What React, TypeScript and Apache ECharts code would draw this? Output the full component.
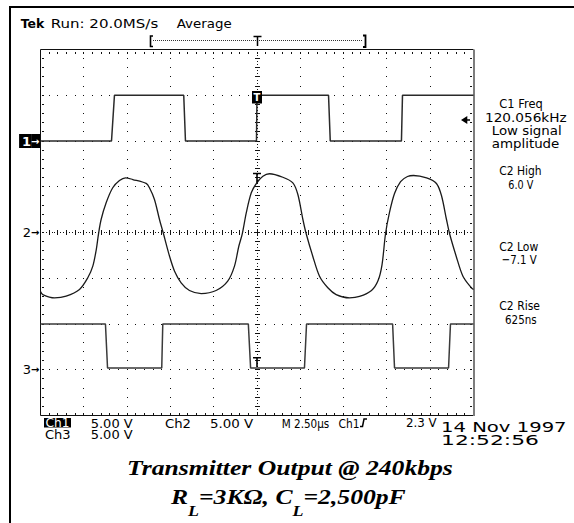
import React, { useEffect, useRef } from 'react';
import * as echarts from 'echarts';

// Screen scales: 2.50 µs/div horizontally (10 div), 5.00 V/div vertically (8 div)
const timeTicks = [0, 2.5, 5, 7.5, 10, 12.5, 15, 17.5, 20, 22.5, 25];
const voltTicks = [-20, -15, -10, -5, 0, 5, 10, 15, 20];
const triggerTime = 12.5;
const ch1Offset = 10; // channel ground markers (screen volts)
const ch2Offset = 0;
const ch3Offset = -15;
const ch1TriggerLevel = 2.3;

// Ch1: transmitter input (V)
const ch1Time = [0, 4.1, 4.27, 8.27, 8.37, 12.47, 12.5, 16.63, 16.73, 20.84, 20.9, 25];
const ch1Volt = [0, 0, 5, 5, 0, 0, 5, 5, 0, 0, 5, 5];

// Ch2: transmitter output (V)
const ch2Time = [0, 0.13, 0.81, 1.48, 2.25, 2.73, 3.02, 3.22, 3.35, 3.5, 3.79, 4.17, 4.56, 4.91, 5.33, 6.1, 6.29, 6.58, 6.87, 7.1, 7.45, 7.74, 8.12, 8.6, 9.28, 10.14, 10.81, 11.2, 11.45, 11.65, 11.88, 12.17, 12.49, 12.84, 13.22, 13.99, 14.57, 14.86, 15.15, 15.34, 15.72, 16.11, 16.59, 17.07, 17.84, 18.42, 19.11, 19.49, 19.72, 19.92, 20.15, 20.44, 20.79, 21.19, 21.54, 22.29, 22.86, 23.15, 23.44, 23.62, 24.0, 24.39, 24.87, 25.0];
const ch2Volt = [-6.45, -6.78, -7.14, -6.96, -6.23, -4.95, -3.68, -1.86, -0.14, 1.42, 3.25, 4.89, 5.68, 5.98, 5.79, 5.36, 4.89, 3.61, 1.42, -0.14, -2.59, -4.23, -5.5, -6.34, -6.67, -6.34, -5.32, -3.68, -1.5, -0.14, 2.15, 4.34, 5.43, 6.15, 6.42, 6.04, 5.43, 4.15, 1.42, -0.14, -2.59, -4.78, -6.04, -6.78, -7.14, -6.99, -6.34, -5.25, -3.5, -0.14, 2.19, 4.26, 5.57, 6.12, 6.23, 5.96, 5.36, 4.04, 1.42, -0.14, -2.59, -4.78, -6.04, -6.23];

// Ch3: receiver output (V)
const ch3Time = [0, 3.75, 3.87, 7.0, 7.06, 12.0, 12.13, 15.24, 15.36, 20.33, 20.44, 23.56, 23.67, 25];
const ch3Volt = [5, 5, 0.2, 0.2, 5, 5, 0.2, 0.2, 5, 5, 0.2, 0.2, 5, 5];

const measurementTexts = ['C1 Freq', '120.056kHz', 'Low signal', 'amplitude', 'C2 High', '6.0 V', 'C2 Low', '−7.1 V', 'C2 Rise', '625ns'];
const titleLines = ['Transmitter Output @ 240kbps', 'R{s|L}=3KΩ, C{s|L}=2,500pF'];

const MINOR = 5;
const INK = '#111';

function interp(ts: number[], vs: number[], t: number) {
  for (let i = 1; i < ts.length; i++) {
    if (t <= ts[i]) {
      const f = (t - ts[i - 1]) / (ts[i] - ts[i - 1] || 1);
      return vs[i - 1] + f * (vs[i] - vs[i - 1]);
    }
  }
  return vs[vs.length - 1];
}

let measureCtx: CanvasRenderingContext2D | null = null;
function fit(text: string, font: string, width: number) {
  if (!measureCtx) measureCtx = document.createElement('canvas').getContext('2d');
  if (!measureCtx) return 1;
  measureCtx.font = font;
  const w = measureCtx.measureText(text).width;
  return w > 0 ? width / w : 1;
}

function scopeText(text: string, x: number, y: number, width: number, size = 12, weight = 'normal', fill = '#000') {
  const font = `${weight} ${size}px "DejaVu Sans"`;
  return {
    type: 'text', x, y, scaleX: fit(text, font, width), silent: true,
    style: { text, font, fill, align: 'left', verticalAlign: 'middle' },
  };
}

function buildOption() {
  const tMin = timeTicks[0];
  const tMax = timeTicks[timeTicks.length - 1];
  const vMin = voltTicks[0];
  const vMax = voltTicks[voltTicks.length - 1];
  const tCentre = timeTicks[(timeTicks.length - 1) / 2];
  const vCentre = voltTicks[(voltTicks.length - 1) / 2];

  const graticule = {
    type: 'custom',
    silent: true,
    z: 1,
    clip: false,
    data: [[tMin, vMin]],
    renderItem: (params: any, api: any) => {
      if (params.dataIndex !== 0) return null;
      const P = (t: number, v: number) => api.coord([t, v]);
      const [L, T] = P(tMin, vMax);
      const [R, B] = P(tMax, vMin);
      const xDiv = timeTicks.length - 1;
      const yDiv = voltTicks.length - 1;
      const sx = (R - L) / (xDiv * MINOR);
      const sy = (B - T) / (yDiv * MINOR);
      const cx = P(tCentre, vCentre)[0];
      const cy = P(tCentre, vCentre)[1];
      const ch: any[] = [];
      const rect = (x: number, y: number, w: number, h: number, fill = INK) =>
        ch.push({ type: 'rect', shape: { x, y, width: w, height: h }, style: { fill } });
      const dot = (x: number, y: number) => rect(Math.round(x - 0.5), Math.round(y - 0.5), 1, 1);
      const seg = (x1: number, y1: number, x2: number, y2: number, stroke = INK, lw = 1) =>
        ch.push({ type: 'line', shape: { x1, y1, x2, y2 }, style: { stroke, lineWidth: lw } });

      timeTicks.slice(1, -1).forEach((t) => {
        if (t === tCentre) return;
        const x = P(t, vCentre)[0];
        for (let k = 0; k <= yDiv * MINOR; k++) dot(x, T + k * sy);
      });
      voltTicks.slice(1, -1).forEach((v) => {
        if (v === vCentre) return;
        const y = P(tCentre, v)[1];
        for (let k = 0; k <= xDiv * MINOR; k++) dot(L + k * sx, y);
      });
      // centre cross
      for (let k = 0; k <= xDiv * MINOR * 3; k++) dot(L + (k * sx) / 3, cy);
      for (let k = 0; k <= yDiv * MINOR * 3; k++) dot(cx, T + (k * sy) / 3);
      for (let k = 0; k <= xDiv * MINOR; k++) rect(Math.round(L + k * sx - 0.5), Math.round(cy - 0.5) - 2, 1, 5);
      for (let k = 0; k <= yDiv * MINOR; k++) rect(Math.round(cx - 0.5) - 2, Math.round(T + k * sy - 0.5), 5, 1);
      // border ticks
      for (let k = 1; k < xDiv * MINOR; k++) {
        const x = Math.round(L + k * sx - 0.5);
        rect(x, Math.round(T) + 2, 1, 2);
        rect(x, Math.round(B) - 3, 1, 2);
      }
      for (let k = 1; k < yDiv * MINOR; k++) {
        const y = Math.round(T + k * sy - 0.5);
        rect(Math.round(L) + 1, y, 2, 1);
        rect(Math.round(R) - 4, y, 2, 1);
      }
      // border
      seg(L, T, R, T);
      seg(L, B, R, B);
      seg(L, T, L, B);
      seg(R + 0.5, T, R + 0.5, B + 0.5, '#7d7d7d', 2);
      return { type: 'group', children: ch };
    },
  };

  const traceLine = (color: string, width: number) => ({ color, width });
  const tShape = 'path://M0,0H10V2H6V12H4V2H0Z';

  const ch1Data = ch1Time.map((t, i) => [t, ch1Volt[i] + ch1Offset]);
  const ch2Data = ch2Time.map((t, i) => [t, ch2Volt[i] + ch2Offset]);
  const ch3Data = ch3Time.map((t, i) => [t, ch3Volt[i] + ch3Offset]);

  const markerLabel: Record<string, string> = {
    [ch1Offset]: '{bd|1}{ba|→}',
    [ch2Offset]: '{d|2}{a|→}',
    [ch3Offset]: '{d|3}{a|→}',
  };

  const titleFont = 'italic bold 20px "Liberation Serif"';
  const titleScale = fit(titleLines[0], titleFont, 326);

  const mY = [104, 117.3, 130.5, 143.5, 171, 184.7, 246.7, 259.7, 305.7, 319.2];
  const mX = [499.3, 485, 491.7, 491.7, 499.3, 508.3, 499.3, 501.7, 499.3, 505];
  const mW = [43.4, 81.7, 70, 67.7, 42.4, 25, 39, 35, 40.7, 31.7];

  const graphic: any[] = [
    { type: 'rect', silent: true, shape: { x: 10, y: 7, width: 620, height: 620 }, style: { fill: 'none', stroke: '#000', lineWidth: 2 } },
    scopeText('Tek', 20.7, 23.5, 23.6, 13, 'bold'),
    scopeText('Run: 20.0MS/s', 50.7, 23.5, 107.6, 13),
    scopeText('Average', 176.7, 23.5, 55, 13),
    { type: 'polyline', silent: true, shape: { points: [[153, 36], [150.5, 36], [150.5, 46.5], [153, 46.5]] }, style: { stroke: '#000', lineWidth: 1.6, fill: 'none' } },
    { type: 'line', silent: true, shape: { x1: 153, y1: 40.5, x2: 363, y2: 40.5 }, style: { stroke: '#333', lineWidth: 1, lineDash: [1, 1] } },
    { type: 'line', silent: true, shape: { x1: 253.5, y1: 36.5, x2: 261.5, y2: 36.5 }, style: { stroke: '#000', lineWidth: 1.5 } },
    { type: 'line', silent: true, shape: { x1: 257.5, y1: 36.5, x2: 257.5, y2: 46 }, style: { stroke: '#000', lineWidth: 1.5 } },
    { type: 'polyline', silent: true, shape: { points: [[363, 35.5], [365.5, 35.5], [365.5, 47], [363, 47]] }, style: { stroke: '#000', lineWidth: 1.8, fill: 'none' } },
    ...measurementTexts.map((t, i) => scopeText(t, mX[i], mY[i], mW[i], 13)),
    { type: 'rect', silent: true, shape: { x: 44, y: 418, width: 27, height: 9.5 }, style: { fill: '#000' } },
    scopeText('Ch1', 45.5, 422.8, 24, 12.5, 'normal', '#fff'),
    scopeText('5.00 V', 90.7, 423.3, 42, 12.5),
    scopeText('Ch2', 165, 423.3, 26, 12.5),
    scopeText('5.00 V', 210, 423.3, 43.3, 12.5),
    scopeText('M 2.50µs', 281.7, 423.3, 47.6, 12.5),
    scopeText('Ch1', 338.5, 423.3, 21, 12.5),
    { type: 'polyline', silent: true, shape: { points: [[360, 426.5], [362.5, 426.5], [364, 419], [367, 419]] }, style: { stroke: '#000', lineWidth: 1.5, fill: 'none' } },
    scopeText('2.3 V', 406, 423.3, 30.7, 12.5),
    scopeText('14 Nov 1997', 441, 427.5, 125.7, 14),
    scopeText('12:52:56', 441, 440.5, 98, 14),
    scopeText('Ch3', 45, 434.8, 25.7, 12.5),
    scopeText('5.00 V', 90.7, 435, 42, 12.5),
    {
      type: 'text', silent: true, x: 289.9, y: 468.3, scaleX: titleScale,
      style: { text: titleLines[0], font: titleFont, fill: '#000', align: 'center', verticalAlign: 'middle' },
    },
    {
      type: 'text', silent: true, x: 288.3, y: 497.3, scaleX: titleScale,
      style: {
        text: titleLines[1], font: titleFont, fill: '#000', align: 'center', verticalAlign: 'middle', lineHeight: 24,
        rich: { s: { font: 'italic bold 14px "Liberation Serif"', padding: [27, 0, 0, 0] } },
      },
    },
  ];

  return {
    animation: false,
    backgroundColor: '#fff',
    grid: { left: 40.5, top: 49.5, width: 433, height: 366, show: false },
    xAxis: {
      type: 'value', min: tMin, max: tMax, interval: timeTicks[1] - timeTicks[0],
      axisLine: { show: false }, axisTick: { show: false }, axisLabel: { show: false }, splitLine: { show: false },
    },
    yAxis: {
      type: 'value', min: vMin, max: vMax, interval: voltTicks[1] - voltTicks[0],
      axisLine: { show: false }, axisTick: { show: false }, splitLine: { show: false },
      axisLabel: {
        show: true, margin: 0, showMinLabel: false, showMaxLabel: false,
        formatter: (v: number) => markerLabel[String(v)] || '',
        rich: {
          bd: { color: '#fff', backgroundColor: '#000', fontFamily: 'DejaVu Sans', fontSize: 13, fontWeight: 'bold', height: 14, padding: [0, 0, 0, 3] },
          ba: { color: '#fff', backgroundColor: '#000', fontFamily: 'DejaVu Sans', fontSize: 10, fontWeight: 'bold', height: 14, padding: [0, 1, 0, 0] },
          d: { color: '#000', fontFamily: 'DejaVu Sans', fontSize: 13 },
          a: { color: '#000', fontFamily: 'DejaVu Sans', fontSize: 10, fontWeight: 'bold', padding: [0, 1, 0, 0] },
        },
      },
    },
    graphic,
    series: [
      graticule,
      {
        type: 'line', name: 'Ch1', data: ch1Data, showSymbol: false, symbol: 'none', z: 3,
        lineStyle: traceLine('#2a2a2a', 1.5),
        markPoint: {
          silent: true,
          data: [
            {
              coord: [triggerTime, interp(ch1Time, ch1Volt, triggerTime) + ch1Offset],
              symbol: 'rect', symbolSize: [10, 12.5], symbolOffset: [0, 2], itemStyle: { color: '#000' },
              label: { show: true, position: 'inside', formatter: 'T', color: '#fff', fontFamily: 'DejaVu Sans', fontSize: 10, fontWeight: 'bold' },
            },
            {
              coord: [tMax, ch1Offset + ch1TriggerLevel],
              symbol: 'path://M0,5L7,0V4H10V6H7V10Z', symbolSize: [9, 8], symbolOffset: [-8, 0], itemStyle: { color: '#000' },
              label: { show: false },
            },
          ],
        },
      },
      {
        type: 'line', name: 'Ch2', data: ch2Data, showSymbol: false, symbol: 'none', z: 3, smooth: 0.3,
        lineStyle: traceLine('#1a1a1a', 1.3),
        markPoint: {
          silent: true,
          data: [{
            coord: [triggerTime, interp(ch2Time, ch2Volt, triggerTime) + ch2Offset],
            symbol: tShape, symbolSize: [8, 10], symbolOffset: [0, -5], itemStyle: { color: '#000' }, label: { show: false },
          }],
        },
      },
      {
        type: 'line', name: 'Ch3', data: ch3Data, showSymbol: false, symbol: 'none', z: 3,
        lineStyle: traceLine('#3a3a3a', 1.5),
        markPoint: {
          silent: true,
          data: [{
            coord: [triggerTime, interp(ch3Time, ch3Volt, triggerTime) + ch3Offset],
            symbol: tShape, symbolSize: [8, 10], symbolOffset: [0, -6], itemStyle: { color: '#000' }, label: { show: false },
          }],
        },
      },
    ],
  };
}

export default function App() {
  const ref = useRef<HTMLDivElement>(null);
  useEffect(() => {
    document.body.style.margin = '0';
    if (!ref.current) return;
    const chart = echarts.init(ref.current, null, { renderer: 'svg' });
    chart.setOption(buildOption() as any);
    return () => chart.dispose();
  }, []);
  return <div ref={ref} style={{ width: 574, height: 523, background: '#fff' }} />;
}
